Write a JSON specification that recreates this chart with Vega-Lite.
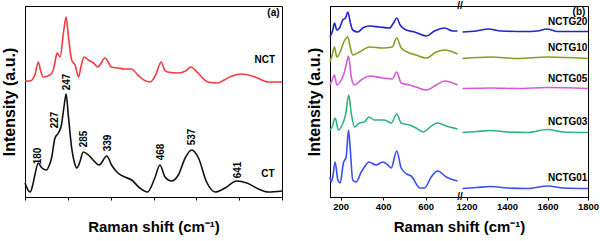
{
  "$schema": "https://vega.github.io/schema/vega-lite/v6.json",
  "background": "white",
  "padding": {"left": 0, "top": 0, "right": 0, "bottom": 0},
  "spacing": 19,
  "resolve": {"scale": {"color": "independent", "x": "independent", "y": "independent"}},
  "config": {
    "font": "Liberation Sans",
    "view": {"stroke": "black", "strokeWidth": 1},
    "axis": {"domainColor": "black", "tickColor": "black", "labelColor": "black", "titleColor": "black", "grid": false, "labelFont": "Liberation Sans", "titleFont": "Liberation Sans", "labelFontWeight": "bold", "titleFontWeight": "bold", "labelFontSize": 9.5, "titleFontSize": 15, "tickSize": 3, "labelPadding": 1, "titlePadding": 9},
    "line": {"strokeWidth": 1.6, "interpolate": "monotone"},
    "text": {"font": "Liberation Sans", "fontWeight": "bold", "fontSize": 10, "color": "black"}
  },
  "datasets": {
    "a": [
      {"sample": "NCT", "shift": 150, "intensity": 116}, {"sample": "NCT", "shift": 162, "intensity": 116}, {"sample": "NCT", "shift": 173, "intensity": 122}, {"sample": "NCT", "shift": 181, "intensity": 135}, {"sample": "NCT", "shift": 186, "intensity": 127}, {"sample": "NCT", "shift": 193, "intensity": 120}, {"sample": "NCT", "shift": 208, "intensity": 122}, {"sample": "NCT", "shift": 216, "intensity": 127}, {"sample": "NCT", "shift": 220, "intensity": 135}, {"sample": "NCT", "shift": 225, "intensity": 144}, {"sample": "NCT", "shift": 232, "intensity": 140}, {"sample": "NCT", "shift": 240, "intensity": 165}, {"sample": "NCT", "shift": 246, "intensity": 180}, {"sample": "NCT", "shift": 251, "intensity": 162}, {"sample": "NCT", "shift": 259, "intensity": 137}, {"sample": "NCT", "shift": 267, "intensity": 132}, {"sample": "NCT", "shift": 275, "intensity": 120}, {"sample": "NCT", "shift": 281, "intensity": 131}, {"sample": "NCT", "shift": 288, "intensity": 140}, {"sample": "NCT", "shift": 298, "intensity": 137}, {"sample": "NCT", "shift": 310, "intensity": 134}, {"sample": "NCT", "shift": 320, "intensity": 130}, {"sample": "NCT", "shift": 337, "intensity": 139}, {"sample": "NCT", "shift": 352, "intensity": 130}, {"sample": "NCT", "shift": 367, "intensity": 129}, {"sample": "NCT", "shift": 383, "intensity": 128}, {"sample": "NCT", "shift": 399, "intensity": 128}, {"sample": "NCT", "shift": 405, "intensity": 126}, {"sample": "NCT", "shift": 418, "intensity": 120}, {"sample": "NCT", "shift": 442, "intensity": 115}, {"sample": "NCT", "shift": 455, "intensity": 122}, {"sample": "NCT", "shift": 468, "intensity": 135}, {"sample": "NCT", "shift": 476, "intensity": 127}, {"sample": "NCT", "shift": 483, "intensity": 125}, {"sample": "NCT", "shift": 507, "intensity": 124}, {"sample": "NCT", "shift": 525, "intensity": 126}, {"sample": "NCT", "shift": 537, "intensity": 130}, {"sample": "NCT", "shift": 554, "intensity": 124}, {"sample": "NCT", "shift": 577, "intensity": 115}, {"sample": "NCT", "shift": 600, "intensity": 114}, {"sample": "NCT", "shift": 615, "intensity": 117}, {"sample": "NCT", "shift": 633, "intensity": 121}, {"sample": "NCT", "shift": 656, "intensity": 123}, {"sample": "NCT", "shift": 687, "intensity": 120}, {"sample": "NCT", "shift": 718, "intensity": 115}, {"sample": "NCT", "shift": 750, "intensity": 115},
      {"sample": "CT", "shift": 150, "intensity": 14}, {"sample": "CT", "shift": 157, "intensity": 7}, {"sample": "CT", "shift": 162, "intensity": 5}, {"sample": "CT", "shift": 168, "intensity": 12}, {"sample": "CT", "shift": 173, "intensity": 22}, {"sample": "CT", "shift": 181, "intensity": 34}, {"sample": "CT", "shift": 186, "intensity": 31}, {"sample": "CT", "shift": 190, "intensity": 29}, {"sample": "CT", "shift": 200, "intensity": 27}, {"sample": "CT", "shift": 206, "intensity": 31}, {"sample": "CT", "shift": 212, "intensity": 39}, {"sample": "CT", "shift": 220, "intensity": 59}, {"sample": "CT", "shift": 228, "intensity": 64}, {"sample": "CT", "shift": 235, "intensity": 72}, {"sample": "CT", "shift": 241, "intensity": 90}, {"sample": "CT", "shift": 246, "intensity": 103}, {"sample": "CT", "shift": 251, "intensity": 82}, {"sample": "CT", "shift": 259, "intensity": 49}, {"sample": "CT", "shift": 265, "intensity": 35}, {"sample": "CT", "shift": 271, "intensity": 29}, {"sample": "CT", "shift": 278, "intensity": 35}, {"sample": "CT", "shift": 286, "intensity": 45}, {"sample": "CT", "shift": 298, "intensity": 42}, {"sample": "CT", "shift": 309, "intensity": 37}, {"sample": "CT", "shift": 323, "intensity": 32}, {"sample": "CT", "shift": 341, "intensity": 41}, {"sample": "CT", "shift": 352, "intensity": 32}, {"sample": "CT", "shift": 367, "intensity": 24}, {"sample": "CT", "shift": 383, "intensity": 20}, {"sample": "CT", "shift": 399, "intensity": 17}, {"sample": "CT", "shift": 418, "intensity": 9}, {"sample": "CT", "shift": 436, "intensity": 5}, {"sample": "CT", "shift": 453, "intensity": 19}, {"sample": "CT", "shift": 465, "intensity": 32}, {"sample": "CT", "shift": 477, "intensity": 20}, {"sample": "CT", "shift": 492, "intensity": 16}, {"sample": "CT", "shift": 508, "intensity": 22}, {"sample": "CT", "shift": 524, "intensity": 39}, {"sample": "CT", "shift": 539, "intensity": 47}, {"sample": "CT", "shift": 555, "intensity": 39}, {"sample": "CT", "shift": 574, "intensity": 15}, {"sample": "CT", "shift": 594, "intensity": 5}, {"sample": "CT", "shift": 617, "intensity": 9}, {"sample": "CT", "shift": 644, "intensity": 16}, {"sample": "CT", "shift": 668, "intensity": 14}, {"sample": "CT", "shift": 695, "intensity": 8}, {"sample": "CT", "shift": 718, "intensity": 5}, {"sample": "CT", "shift": 750, "intensity": 6}
    ],
    "apeaks": [
      {"label": "180", "shift": 181.5, "intensity": 41}, {"label": "227", "shift": 220, "intensity": 77}, {"label": "247", "shift": 247, "intensity": 115}, {"label": "285", "shift": 288, "intensity": 58}, {"label": "339", "shift": 343, "intensity": 54}, {"label": "468", "shift": 467.5, "intensity": 45}, {"label": "537", "shift": 539, "intensity": 60}, {"label": "641", "shift": 648, "intensity": 27}
    ],
    "alab": [
      {"label": "NCT", "shift": 710, "intensity": 137}, {"label": "CT", "shift": 717, "intensity": 23}, {"label": "(a)", "shift": 730, "intensity": 184}
    ],
    "b": [
      {"sample": "NCTG20", "seg": 1, "shift": 150, "intensity": 160}, {"sample": "NCTG20", "seg": 1, "shift": 163, "intensity": 167}, {"sample": "NCTG20", "seg": 1, "shift": 171, "intensity": 174}, {"sample": "NCTG20", "seg": 1, "shift": 182, "intensity": 167}, {"sample": "NCTG20", "seg": 1, "shift": 195, "intensity": 169}, {"sample": "NCTG20", "seg": 1, "shift": 210, "intensity": 177}, {"sample": "NCTG20", "seg": 1, "shift": 223, "intensity": 179}, {"sample": "NCTG20", "seg": 1, "shift": 234, "intensity": 185}, {"sample": "NCTG20", "seg": 1, "shift": 245, "intensity": 175}, {"sample": "NCTG20", "seg": 1, "shift": 257, "intensity": 167}, {"sample": "NCTG20", "seg": 1, "shift": 281, "intensity": 165}, {"sample": "NCTG20", "seg": 1, "shift": 304, "intensity": 169}, {"sample": "NCTG20", "seg": 1, "shift": 336, "intensity": 171}, {"sample": "NCTG20", "seg": 1, "shift": 383, "intensity": 170}, {"sample": "NCTG20", "seg": 1, "shift": 430, "intensity": 169}, {"sample": "NCTG20", "seg": 1, "shift": 449, "intensity": 174}, {"sample": "NCTG20", "seg": 1, "shift": 464, "intensity": 179}, {"sample": "NCTG20", "seg": 1, "shift": 480, "intensity": 172}, {"sample": "NCTG20", "seg": 1, "shift": 509, "intensity": 167}, {"sample": "NCTG20", "seg": 1, "shift": 548, "intensity": 165}, {"sample": "NCTG20", "seg": 1, "shift": 603, "intensity": 161}, {"sample": "NCTG20", "seg": 1, "shift": 642, "intensity": 166}, {"sample": "NCTG20", "seg": 1, "shift": 689, "intensity": 169}, {"sample": "NCTG20", "seg": 1, "shift": 728, "intensity": 166}, {"sample": "NCTG20", "seg": 1, "shift": 751, "intensity": 166},
      {"sample": "NCTG20", "seg": 2, "shift": 1180, "intensity": 165}, {"sample": "NCTG20", "seg": 2, "shift": 1250, "intensity": 166}, {"sample": "NCTG20", "seg": 2, "shift": 1307, "intensity": 168}, {"sample": "NCTG20", "seg": 2, "shift": 1370, "intensity": 166}, {"sample": "NCTG20", "seg": 2, "shift": 1487, "intensity": 165.5}, {"sample": "NCTG20", "seg": 2, "shift": 1550, "intensity": 166}, {"sample": "NCTG20", "seg": 2, "shift": 1597, "intensity": 168}, {"sample": "NCTG20", "seg": 2, "shift": 1650, "intensity": 165.5}, {"sample": "NCTG20", "seg": 2, "shift": 1800, "intensity": 165.5},
      {"sample": "NCTG10", "seg": 1, "shift": 150, "intensity": 135}, {"sample": "NCTG10", "seg": 1, "shift": 160, "intensity": 142}, {"sample": "NCTG10", "seg": 1, "shift": 171, "intensity": 150}, {"sample": "NCTG10", "seg": 1, "shift": 182, "intensity": 140}, {"sample": "NCTG10", "seg": 1, "shift": 198, "intensity": 145}, {"sample": "NCTG10", "seg": 1, "shift": 213, "intensity": 154}, {"sample": "NCTG10", "seg": 1, "shift": 234, "intensity": 160}, {"sample": "NCTG10", "seg": 1, "shift": 245, "intensity": 150}, {"sample": "NCTG10", "seg": 1, "shift": 257, "intensity": 142}, {"sample": "NCTG10", "seg": 1, "shift": 289, "intensity": 145}, {"sample": "NCTG10", "seg": 1, "shift": 336, "intensity": 150}, {"sample": "NCTG10", "seg": 1, "shift": 398, "intensity": 149}, {"sample": "NCTG10", "seg": 1, "shift": 443, "intensity": 150}, {"sample": "NCTG10", "seg": 1, "shift": 464, "intensity": 159}, {"sample": "NCTG10", "seg": 1, "shift": 485, "intensity": 149}, {"sample": "NCTG10", "seg": 1, "shift": 524, "intensity": 144}, {"sample": "NCTG10", "seg": 1, "shift": 555, "intensity": 142}, {"sample": "NCTG10", "seg": 1, "shift": 603, "intensity": 139}, {"sample": "NCTG10", "seg": 1, "shift": 650, "intensity": 145}, {"sample": "NCTG10", "seg": 1, "shift": 689, "intensity": 147}, {"sample": "NCTG10", "seg": 1, "shift": 751, "intensity": 143},
      {"sample": "NCTG10", "seg": 2, "shift": 1180, "intensity": 138.5}, {"sample": "NCTG10", "seg": 2, "shift": 1320, "intensity": 140}, {"sample": "NCTG10", "seg": 2, "shift": 1450, "intensity": 138.5}, {"sample": "NCTG10", "seg": 2, "shift": 1600, "intensity": 140}, {"sample": "NCTG10", "seg": 2, "shift": 1800, "intensity": 138.5},
      {"sample": "NCTG05", "seg": 1, "shift": 150, "intensity": 112}, {"sample": "NCTG05", "seg": 1, "shift": 160, "intensity": 117}, {"sample": "NCTG05", "seg": 1, "shift": 171, "intensity": 122}, {"sample": "NCTG05", "seg": 1, "shift": 182, "intensity": 112}, {"sample": "NCTG05", "seg": 1, "shift": 203, "intensity": 117}, {"sample": "NCTG05", "seg": 1, "shift": 218, "intensity": 125}, {"sample": "NCTG05", "seg": 1, "shift": 226, "intensity": 132}, {"sample": "NCTG05", "seg": 1, "shift": 237, "intensity": 141}, {"sample": "NCTG05", "seg": 1, "shift": 250, "intensity": 120}, {"sample": "NCTG05", "seg": 1, "shift": 265, "intensity": 112}, {"sample": "NCTG05", "seg": 1, "shift": 297, "intensity": 117}, {"sample": "NCTG05", "seg": 1, "shift": 336, "intensity": 121}, {"sample": "NCTG05", "seg": 1, "shift": 398, "intensity": 119}, {"sample": "NCTG05", "seg": 1, "shift": 443, "intensity": 118}, {"sample": "NCTG05", "seg": 1, "shift": 464, "intensity": 125}, {"sample": "NCTG05", "seg": 1, "shift": 485, "intensity": 114}, {"sample": "NCTG05", "seg": 1, "shift": 524, "intensity": 112}, {"sample": "NCTG05", "seg": 1, "shift": 555, "intensity": 110}, {"sample": "NCTG05", "seg": 1, "shift": 603, "intensity": 107}, {"sample": "NCTG05", "seg": 1, "shift": 650, "intensity": 112}, {"sample": "NCTG05", "seg": 1, "shift": 689, "intensity": 116}, {"sample": "NCTG05", "seg": 1, "shift": 751, "intensity": 112},
      {"sample": "NCTG05", "seg": 2, "shift": 1180, "intensity": 108.5}, {"sample": "NCTG05", "seg": 2, "shift": 1320, "intensity": 109}, {"sample": "NCTG05", "seg": 2, "shift": 1450, "intensity": 108.5}, {"sample": "NCTG05", "seg": 2, "shift": 1600, "intensity": 109.5}, {"sample": "NCTG05", "seg": 2, "shift": 1800, "intensity": 108.5},
      {"sample": "NCTG03", "seg": 1, "shift": 150, "intensity": 67}, {"sample": "NCTG03", "seg": 1, "shift": 160, "intensity": 70}, {"sample": "NCTG03", "seg": 1, "shift": 174, "intensity": 79}, {"sample": "NCTG03", "seg": 1, "shift": 190, "intensity": 67}, {"sample": "NCTG03", "seg": 1, "shift": 207, "intensity": 72}, {"sample": "NCTG03", "seg": 1, "shift": 223, "intensity": 82}, {"sample": "NCTG03", "seg": 1, "shift": 238, "intensity": 102}, {"sample": "NCTG03", "seg": 1, "shift": 250, "intensity": 84}, {"sample": "NCTG03", "seg": 1, "shift": 265, "intensity": 70}, {"sample": "NCTG03", "seg": 1, "shift": 289, "intensity": 74}, {"sample": "NCTG03", "seg": 1, "shift": 312, "intensity": 75}, {"sample": "NCTG03", "seg": 1, "shift": 333, "intensity": 80}, {"sample": "NCTG03", "seg": 1, "shift": 359, "intensity": 77}, {"sample": "NCTG03", "seg": 1, "shift": 406, "intensity": 77}, {"sample": "NCTG03", "seg": 1, "shift": 438, "intensity": 74}, {"sample": "NCTG03", "seg": 1, "shift": 464, "intensity": 83}, {"sample": "NCTG03", "seg": 1, "shift": 485, "intensity": 74}, {"sample": "NCTG03", "seg": 1, "shift": 524, "intensity": 72}, {"sample": "NCTG03", "seg": 1, "shift": 555, "intensity": 69}, {"sample": "NCTG03", "seg": 1, "shift": 587, "intensity": 65}, {"sample": "NCTG03", "seg": 1, "shift": 634, "intensity": 72}, {"sample": "NCTG03", "seg": 1, "shift": 657, "intensity": 74}, {"sample": "NCTG03", "seg": 1, "shift": 697, "intensity": 71}, {"sample": "NCTG03", "seg": 1, "shift": 751, "intensity": 68},
      {"sample": "NCTG03", "seg": 2, "shift": 1180, "intensity": 64.5}, {"sample": "NCTG03", "seg": 2, "shift": 1250, "intensity": 65.5}, {"sample": "NCTG03", "seg": 2, "shift": 1320, "intensity": 66.5}, {"sample": "NCTG03", "seg": 2, "shift": 1400, "intensity": 65}, {"sample": "NCTG03", "seg": 2, "shift": 1500, "intensity": 64.5}, {"sample": "NCTG03", "seg": 2, "shift": 1600, "intensity": 67.5}, {"sample": "NCTG03", "seg": 2, "shift": 1680, "intensity": 65}, {"sample": "NCTG03", "seg": 2, "shift": 1800, "intensity": 64.5},
      {"sample": "NCTG01", "seg": 1, "shift": 150, "intensity": 20}, {"sample": "NCTG01", "seg": 1, "shift": 155, "intensity": 15}, {"sample": "NCTG01", "seg": 1, "shift": 163, "intensity": 20}, {"sample": "NCTG01", "seg": 1, "shift": 174, "intensity": 35}, {"sample": "NCTG01", "seg": 1, "shift": 187, "intensity": 17}, {"sample": "NCTG01", "seg": 1, "shift": 198, "intensity": 14}, {"sample": "NCTG01", "seg": 1, "shift": 213, "intensity": 34}, {"sample": "NCTG01", "seg": 1, "shift": 226, "intensity": 40}, {"sample": "NCTG01", "seg": 1, "shift": 237, "intensity": 67}, {"sample": "NCTG01", "seg": 1, "shift": 245, "intensity": 49}, {"sample": "NCTG01", "seg": 1, "shift": 257, "intensity": 17}, {"sample": "NCTG01", "seg": 1, "shift": 273, "intensity": 15}, {"sample": "NCTG01", "seg": 1, "shift": 297, "intensity": 25}, {"sample": "NCTG01", "seg": 1, "shift": 312, "intensity": 30}, {"sample": "NCTG01", "seg": 1, "shift": 333, "intensity": 35}, {"sample": "NCTG01", "seg": 1, "shift": 367, "intensity": 32}, {"sample": "NCTG01", "seg": 1, "shift": 398, "intensity": 35}, {"sample": "NCTG01", "seg": 1, "shift": 422, "intensity": 32}, {"sample": "NCTG01", "seg": 1, "shift": 438, "intensity": 29}, {"sample": "NCTG01", "seg": 1, "shift": 464, "intensity": 46}, {"sample": "NCTG01", "seg": 1, "shift": 485, "intensity": 29}, {"sample": "NCTG01", "seg": 1, "shift": 511, "intensity": 23}, {"sample": "NCTG01", "seg": 1, "shift": 532, "intensity": 21}, {"sample": "NCTG01", "seg": 1, "shift": 574, "intensity": 9}, {"sample": "NCTG01", "seg": 1, "shift": 595, "intensity": 9}, {"sample": "NCTG01", "seg": 1, "shift": 626, "intensity": 20}, {"sample": "NCTG01", "seg": 1, "shift": 657, "intensity": 26}, {"sample": "NCTG01", "seg": 1, "shift": 697, "intensity": 20}, {"sample": "NCTG01", "seg": 1, "shift": 751, "intensity": 16},
      {"sample": "NCTG01", "seg": 2, "shift": 1180, "intensity": 8.5}, {"sample": "NCTG01", "seg": 2, "shift": 1250, "intensity": 9.5}, {"sample": "NCTG01", "seg": 2, "shift": 1320, "intensity": 10.5}, {"sample": "NCTG01", "seg": 2, "shift": 1400, "intensity": 9}, {"sample": "NCTG01", "seg": 2, "shift": 1500, "intensity": 8.5}, {"sample": "NCTG01", "seg": 2, "shift": 1600, "intensity": 11}, {"sample": "NCTG01", "seg": 2, "shift": 1680, "intensity": 9}, {"sample": "NCTG01", "seg": 2, "shift": 1800, "intensity": 8.5}
    ],
    "blab": [
      {"label": "(b)", "shift": 1787, "intensity": 185}, {"label": "NCTG20", "shift": 1797, "intensity": 175}, {"label": "NCTG10", "shift": 1797, "intensity": 149}, {"label": "NCTG05", "shift": 1797, "intensity": 118}, {"label": "NCTG03", "shift": 1797, "intensity": 75}, {"label": "NCTG01", "shift": 1797, "intensity": 19}
    ],
    "brk": [
      {"shift": 965, "intensity": 191}, {"shift": 965, "intensity": 0}
    ]
  },
  "hconcat": [
    {
      "width": 257,
      "height": 191,
      "layer": [
        {
          "data": {"name": "a"},
          "mark": {"type": "line"},
          "encoding": {
            "x": {"field": "shift", "type": "quantitative", "scale": {"domain": [150, 750], "nice": false, "zero": false}, "axis": {"title": "Raman shift (cm⁻¹)", "values": [150, 200, 250, 300, 350, 400, 450, 500, 550, 600, 650, 700, 750], "format": "d", "labelExpr": "datum.value % 100 === 0 ? datum.label : ''", "labelFlush": false, "labelOverlap": false}},
            "y": {"field": "intensity", "type": "quantitative", "scale": {"domain": [0, 191], "nice": false, "zero": false}, "axis": {"title": "Intensity (a.u.)", "ticks": false, "labels": false, "titlePadding": 8, "titleFontSize": 16}},
            "color": {"field": "sample", "type": "nominal", "scale": {"domain": ["NCT", "CT"], "range": ["#f53a40", "#111111"]}, "legend": null}
          }
        },
        {
          "data": {"name": "apeaks"},
          "mark": {"type": "text", "angle": 270, "align": "center", "baseline": "middle"},
          "encoding": {
            "x": {"field": "shift", "type": "quantitative"},
            "y": {"field": "intensity", "type": "quantitative"},
            "text": {"field": "label"}
          }
        },
        {
          "data": {"name": "alab"},
          "mark": {"type": "text", "align": "center", "baseline": "middle"},
          "encoding": {
            "x": {"field": "shift", "type": "quantitative"},
            "y": {"field": "intensity", "type": "quantitative"},
            "text": {"field": "label"}
          }
        }
      ]
    },
    {
      "width": 258,
      "height": 191,
      "layer": [
        {
          "data": {"name": "b"},
          "mark": {"type": "line"},
          "encoding": {
            "x": {"field": "shift", "type": "quantitative", "scale": {"domain": [150, 750, 1180, 1800], "range": [0, 127.5, 132.5, 258], "nice": false, "zero": false}, "axis": {"title": "Raman shift (cm⁻¹)", "values": [200, 300, 400, 500, 600, 700, 1200, 1300, 1400, 1500, 1600, 1700, 1800], "format": "d", "labelExpr": "datum.value % 200 === 0 ? datum.label : ''", "labelFlush": false, "labelOverlap": false}},
            "y": {"field": "intensity", "type": "quantitative", "scale": {"domain": [0, 191], "nice": false, "zero": false}, "axis": {"title": "Intensity (a.u.)", "ticks": false, "labels": false, "titlePadding": 8, "titleFontSize": 16}},
            "color": {"field": "sample", "type": "nominal", "scale": {"domain": ["NCTG20", "NCTG10", "NCTG05", "NCTG03", "NCTG01"], "range": ["#2027c8", "#8c9a22", "#d65ad8", "#2db57c", "#3a4ff0"]}, "legend": null},
            "detail": {"field": "seg", "type": "nominal"}
          }
        },
        {
          "data": {"name": "blab"},
          "mark": {"type": "text", "align": "right", "baseline": "middle"},
          "encoding": {
            "x": {"field": "shift", "type": "quantitative"},
            "y": {"field": "intensity", "type": "quantitative"},
            "text": {"field": "label"}
          }
        },
        {
          "data": {"name": "brk"},
          "mark": {"type": "text", "align": "center", "baseline": "middle", "fontSize": 10},
          "encoding": {
            "x": {"field": "shift", "type": "quantitative"},
            "y": {"field": "intensity", "type": "quantitative"},
            "text": {"value": "//"}
          }
        }
      ]
    }
  ]
}
